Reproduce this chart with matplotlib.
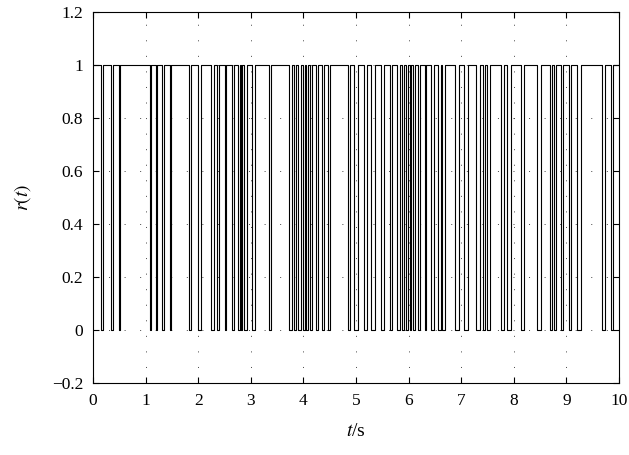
import numpy as np
import matplotlib
matplotlib.use("Agg")
import matplotlib.pyplot as plt

# intervals (seconds) where r(t) drops to 0
t_down = [0.15, 0.34, 0.49, 1.08, 1.19, 1.31, 1.46, 1.83, 1.99, 2.24, 2.36, 2.50,
          2.64, 2.75, 2.81, 2.87, 3.03, 3.35, 3.72, 3.82, 3.90, 3.99, 4.05, 4.13,
          4.23, 4.35, 4.47, 4.84, 4.97, 5.16, 5.29, 5.48, 5.65, 5.77, 5.87, 5.96,
          6.02, 6.09, 6.17, 6.31, 6.43, 6.56, 6.64, 6.89, 7.06, 7.29, 7.41, 7.50,
          7.76, 7.87, 8.13, 8.45, 8.69, 8.76, 8.89, 9.05, 9.21, 9.68, 9.84]
t_up = [0.18, 0.37, 0.52, 1.11, 1.22, 1.34, 1.49, 1.86, 2.05, 2.29, 2.39, 2.53,
        2.68, 2.79, 2.84, 2.92, 3.08, 3.39, 3.79, 3.85, 3.96, 4.03, 4.09, 4.16,
        4.27, 4.39, 4.50, 4.89, 5.03, 5.20, 5.36, 5.54, 5.68, 5.84, 5.92, 5.99,
        6.05, 6.12, 6.21, 6.34, 6.48, 6.61, 6.69, 6.96, 7.13, 7.35, 7.45, 7.54,
        7.82, 7.95, 8.19, 8.51, 8.73, 8.81, 8.94, 9.09, 9.27, 9.74, 9.89]
t_end = 10.0

t = [0.0]
r = [1.0]
for d, u in zip(t_down, t_up):
    t += [d, d, u, u]
    r += [1.0, 0.0, 0.0, 1.0]
t.append(t_end)
r.append(1.0)

plt.rcParams["font.family"] = ["Liberation Serif", "DejaVu Serif"]
plt.rcParams["mathtext.fontset"] = "stix"
plt.rcParams["font.size"] = 12.5

fig = plt.figure(figsize=(6.29, 4.55), dpi=100)
ax = fig.add_axes([0.148, 0.158, 0.836, 0.816])
ax.plot(t, r, color="black", linewidth=0.8)

ax.set_xlim(0, 10)
ax.set_ylim(-0.2, 1.2)
ax.set_xticks(np.arange(0, 11, 1))
ax.set_yticks([-0.2, 0, 0.2, 0.4, 0.6, 0.8, 1.0, 1.2])
ax.set_yticklabels(["\u22120.2", "0", "0.2", "0.4", "0.6", "0.8", "1", "1.2"])
ax.grid(True, linestyle=(0, (1, 15)), color="#444444", linewidth=0.7)
ax.tick_params(direction="in", top=True, right=True, length=4, width=0.8, pad=7)
for s in ax.spines.values():
    s.set_linewidth(0.8)

ax.set_xlabel("$t$/s", labelpad=10, fontsize=14)
ax.set_ylabel("$r(t)$", labelpad=14, fontsize=14)

fig.savefig("out.png", dpi=100)
